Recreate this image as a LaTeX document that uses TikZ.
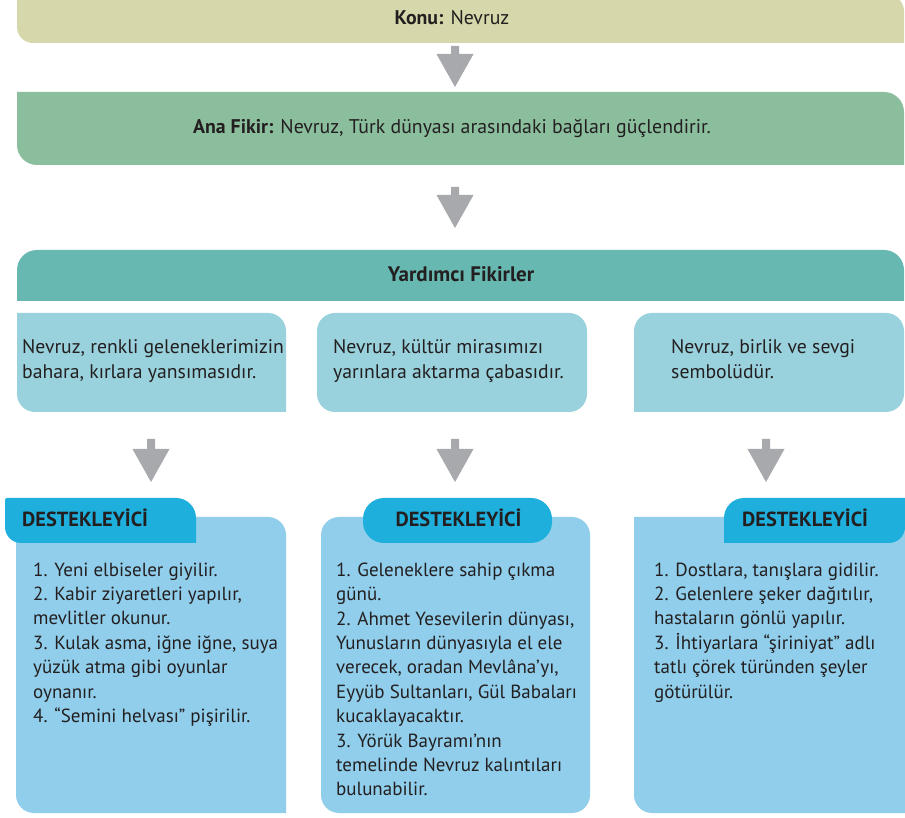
\documentclass[tikz,border=0pt]{standalone}
\usepackage{fontspec}
\setmainfont{PT Sans}
\definecolor{konuc}{HTML}{D6D8AB}
\definecolor{anac}{HTML}{8BBE9D}
\definecolor{yardc}{HTML}{67B8B1}
\definecolor{ideac}{HTML}{99D2DC}
\definecolor{destc}{HTML}{90CEEB}
\definecolor{tabc}{HTML}{1FAFDC}
\definecolor{arrc}{HTML}{A7A9AC}
\definecolor{textc}{HTML}{231F20}
% rounded rectangle with per-corner radii; coordinates in px, y measured downwards
% #1 fill, #2 x1, #3 ytop, #4 x2, #5 ybottom, #6 r_tl, #7 r_tr, #8 r_br, #9 r_bl
\newcommand\rrect[9]{%
  \fill[#1] ({#2},{817-#3-#6}) arc[start angle=180,end angle=90,radius=#6pt]
    -- ({#4-#7},{817-#3}) arc[start angle=90,end angle=0,radius=#7pt]
    -- ({#4},{817-#5+#8}) arc[start angle=0,end angle=-90,radius=#8pt]
    -- ({#2+#9},{817-#5}) arc[start angle=270,end angle=180,radius=#9pt]
    -- cycle;}
% block arrow: #1 name, #2 x centre, #3 top of shaft, #4 top of triangle, #5 tip
\newcommand\garrow[5]{%
  \coordinate (#1) at ({#2},{817-#5});
  \fill[arrc] ({#2-4},{817-#3}) -- ({#2+4},{817-#3}) -- ({#2+4},{817-#4})
    -- ({#2+18.5},{817-#4}) -- (#1) -- ({#2-18.5},{817-#4}) -- ({#2-4},{817-#4}) -- cycle;}
\newcommand\fl{\rule{0pt}{15pt}}
\begin{document}
\begin{tikzpicture}[x=1pt,y=1pt,
  txt/.style={text=textc, inner sep=0pt},
  ideatxt/.style={txt, anchor=north west, align=left, font=\fontsize{19.7}{25}\selectfont},
  desttxt/.style={txt, anchor=north west, align=left, font=\fontsize{19}{24.4}\selectfont},
  tabtxt/.style={txt, font=\fontsize{20.4}{22}\selectfont\bfseries},
  bartxt/.style={txt, anchor=base, font=\fontsize{19.8}{22}\selectfont}]
\useasboundingbox (0,0) rectangle (905,817);
\fill[white] (0,0) rectangle (905,817);
% top bars
\rrect{konuc}{17}{-5}{904}{43}{0}{16}{0}{16}
\rrect{anac}{17}{92}{904}{165}{0}{20}{0}{20}
\rrect{yardc}{17}{250}{904}{301}{20}{20}{0.01}{0.01}
\node[bartxt] (konu) at (452,792) {\textbf{Konu:} Nevruz};
\node[bartxt] (ana) at (452,683) {\textbf{Ana Fikir:} Nevruz, Türk dünyası arasındaki bağları güçlendirir.};
\node[bartxt, font=\fontsize{21}{22}\selectfont\bfseries] (yard) at (461,535) {Yardımcı Fikirler};
% arrows
\garrow{a1}{455}{46}{54}{87}
\garrow{a2}{455}{187}{195}{228}
\garrow{a3}{151}{439}{449}{482}
\garrow{a4}{455}{439}{449}{482}
\garrow{a5}{766}{439}{449}{482}
% idea boxes
\rrect{ideac}{17}{313}{286}{412}{0.01}{18}{0.01}{18}
\rrect{ideac}{317}{313}{587}{412}{18}{18}{18}{18}
\rrect{ideac}{634}{313}{904}{412}{18}{18}{18}{0.01}
\node[ideatxt] (i1) at (22,479) {\fl Nevruz, renkli geleneklerimizin\\bahara, kırlara yansımasıdır.};
\node[ideatxt] (i2) at (333,479) {\fl Nevruz, kültür mirasımızı\\yarınlara aktarma çabasıdır.};
\node[ideatxt] (i3) at (671,479) {\fl Nevruz, birlik ve sevgi\\sembolüdür.};
% supporting boxes
\rrect{destc}{16}{517}{286}{813}{0.01}{18}{0.01}{18}
\rrect{destc}{321}{517}{590}{813}{18}{18}{18}{18}
\rrect{destc}{634}{517}{905}{813}{0.01}{0.01}{0.01}{18}
\rrect{tabc}{5}{498}{196}{543}{2}{20}{0.01}{16}
\rrect{tabc}{363}{498}{552}{543}{21}{21}{21}{21}
\rrect{tabc}{724}{498}{905}{543}{20}{0.01}{16}{0.01}
\node[tabtxt, anchor=base west] (t1) at (22,290) {DESTEKLEYİCİ};
\node[tabtxt, anchor=base] (t2) at (458.5,290) {DESTEKLEYİCİ};
\node[tabtxt, anchor=base west] (t3) at (742,290) {DESTEKLEYİCİ};
\node[desttxt] (d1) at (33,256) {\fl 1. Yeni elbiseler giyilir.\\2. Kabir ziyaretleri yapılır,\\mevlitler okunur.\\3. Kulak asma, iğne iğne, suya\\yüzük atma gibi oyunlar\\oynanır.\\4. “Semini helvası” pişirilir.};
\node[desttxt] (d2) at (336,256) {\fl 1. Geleneklere sahip çıkma\\günü.\\2. Ahmet Yesevilerin dünyası,\\Yunusların dünyasıyla el ele\\verecek, oradan Mevlâna’yı,\\Eyyüb Sultanları, Gül Babaları\\kucaklayacaktır.\\3. Yörük Bayramı’nın\\temelinde Nevruz kalıntıları\\bulunabilir.};
\node[desttxt] (d3) at (654,256) {\fl 1. Dostlara, tanışlara gidilir.\\2. Gelenlere şeker dağıtılır,\\hastaların gönlü yapılır.\\3. İhtiyarlara “şiriniyat” adlı\\tatlı çörek türünden şeyler\\götürülür.};
\end{tikzpicture}
\end{document}
